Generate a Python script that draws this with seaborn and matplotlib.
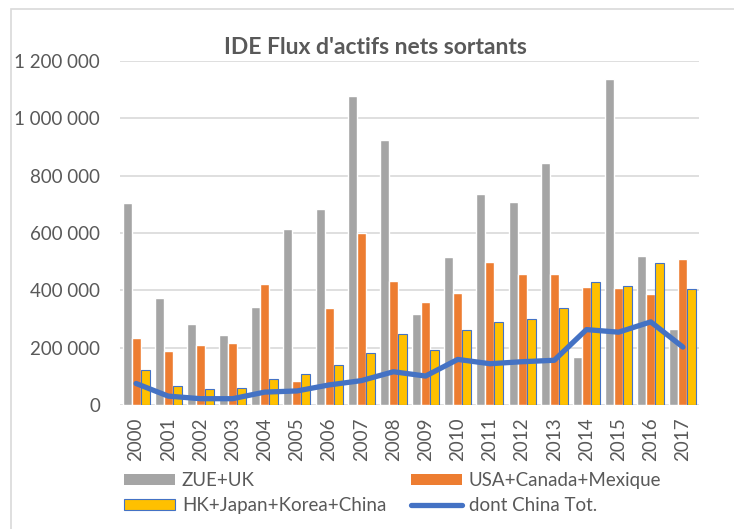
import matplotlib
matplotlib.use("Agg")
import matplotlib.pyplot as plt
import seaborn as sns
import pandas as pd
import numpy as np
from matplotlib.patches import Rectangle, Patch
from matplotlib.lines import Line2D
from matplotlib.ticker import FuncFormatter

years = [str(y) for y in range(2000, 2018)]
zue_uk = [704, 375, 283, 245, 342, 613, 685, 1077, 925, 319, 516, 737, 709, 843, 168, 1138, 521, 266]
usa_can_mex = [232, 187, 208, 218, 422, 85, 338, 599, 434, 360, 392, 498, 457, 458, 410, 407, 388, 508]
hk_jp_kr_cn = [123, 67, 55, 59, 92, 107, 140, 180, 246, 193, 263, 290, 301, 339, 428, 414, 494, 403]
china_tot = [75, 31, 22, 22, 45, 49, 70, 85, 116, 101, 159, 144, 151, 156, 263, 254, 290, 202]
series_names = ["ZUE+UK", "USA+Canada+Mexique", "HK+Japan+Korea+China"]
line_name = "dont China Tot."
title = "IDE Flux d'actifs nets sortants"

colors = ["#A5A5A5", "#ED7D31", "#FFC000"]
blue = "#4472C4"
txt = "#595959"

sns.set_theme(style="white")
plt.rcParams["font.family"] = ["Lato", "DejaVu Sans"]

df = pd.DataFrame({
    "year": years * 3,
    "value": [v * 1000 for v in zue_uk + usa_can_mex + hk_jp_kr_cn],
    "series": sum([[s] * len(years) for s in series_names], []),
})

fig = plt.figure(figsize=(7.34, 5.29), dpi=100)
W, H = 734, 529
ax = fig.add_axes([120 / W, 1 - 405 / H, (699 - 120) / W, (405 - 61) / H])

sns.barplot(data=df, x="year", y="value", hue="series", palette=colors,
            width=0.84, gap=0, ax=ax, legend=False, saturation=1)
# yellow bars get a thin blue edge
for patch in ax.patches:
    fc = patch.get_facecolor()
    if abs(fc[0] - 1.0) < 0.01 and abs(fc[1] - 0.753) < 0.02 and fc[2] < 0.05:
        patch.set_edgecolor(blue)
        patch.set_linewidth(0.8)

sns.lineplot(x=np.arange(len(years)), y=[v * 1000 for v in china_tot], ax=ax,
             color=blue, linewidth=3.8, solid_capstyle="round", legend=False)

ax.set_ylim(0, 1200000)
ax.set_xlim(-0.5, len(years) - 0.5)
ax.set_yticks(np.arange(0, 1200001, 200000))
ax.yaxis.set_major_formatter(FuncFormatter(lambda v, p: f"{int(v):,}".replace(",", " ")))
ax.grid(axis="y", color="#D9D9D9", linewidth=1.2)
ax.set_axisbelow(True)
for s in ax.spines.values():
    s.set_visible(False)
ax.set_xlabel("")
ax.set_ylabel("")
ax.tick_params(axis="y", length=0, pad=14.4, labelsize=13.5, labelcolor=txt)
ax.tick_params(axis="x", length=0, pad=9, labelsize=13.5, labelcolor=txt, rotation=90)

fig.text(375 / W, 1 - 47 / H, title, ha="center", va="center",
         fontsize=16.5, fontweight="bold", color=txt)

handles = [
    Patch(facecolor=colors[0], edgecolor="none"),
    Patch(facecolor=colors[1], edgecolor="none"),
    Patch(facecolor=colors[2], edgecolor=blue, linewidth=0.8),
    Line2D([0], [0], color=blue, linewidth=3.8, solid_capstyle="round"),
]
labels = series_names + [line_name]
leg_kw = dict(loc="upper left", frameon=False, fontsize=13.5, handlelength=2.72,
              handleheight=0.55, handletextpad=0.36, labelspacing=0.45,
              borderpad=0, borderaxespad=0)
leg1 = fig.legend([handles[0], handles[2]], [labels[0], labels[2]],
                  bbox_to_anchor=(124 / W, 1 - 472 / H), **leg_kw)
leg2 = fig.legend([handles[1], handles[3]], [labels[1], labels[3]],
                  bbox_to_anchor=(411 / W, 1 - 472 / H), **leg_kw)
for leg in (leg1, leg2):
    for t in leg.get_texts():
        t.set_color(txt)

fig.patches.append(Rectangle((11 / W, -0.1), 1.2, 1 - 9 / H + 0.1, transform=fig.transFigure,
                             fill=False, edgecolor="#D9D9D9", linewidth=1.2))

fig.savefig("out.png", dpi=100)
